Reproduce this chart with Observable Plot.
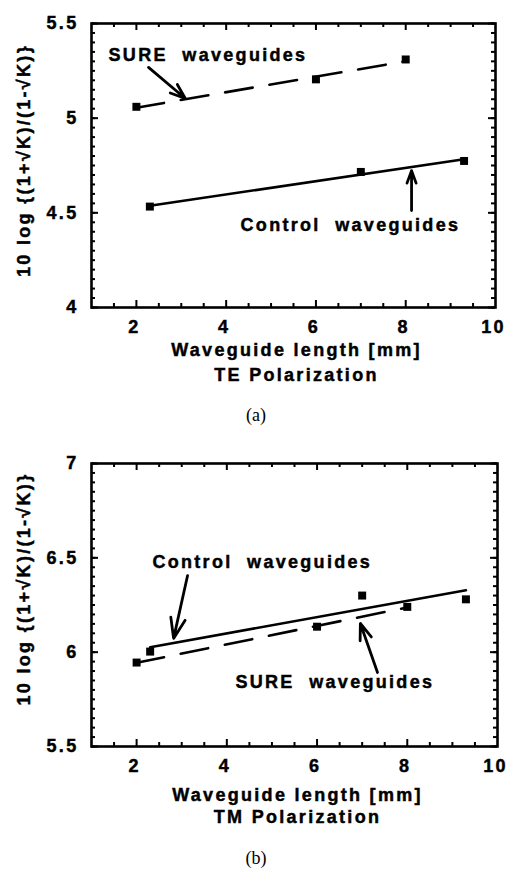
<!DOCTYPE html>
<html><head><meta charset="utf-8">
<script src="https://cdn.jsdelivr.net/npm/d3@7"></script>
<script src="https://cdn.jsdelivr.net/npm/@observablehq/plot@0.6"></script>
<style>
body{margin:0;background:#fff;width:508px;}
#chart svg text{letter-spacing:2.3px;stroke:#000;stroke-width:0.45px;}
.cap{width:508px;text-align:center;font-family:'Liberation Serif','Times New Roman',serif;font-size:18px;color:#000;}
</style></head><body><div id="chart"></div>
<script>
// ---- data ----
const xTickLabels = [2, 4, 6, 8, 10];
const xMajorTicks = [2, 4, 6, 8];
const xMinorTicks = [1.5, 2.5, 3, 3.5, 4.5, 5, 5.5, 6.5, 7, 7.5, 8.5, 9, 9.5];

// (a) TE polarization
const teYTicks = [4, 4.5, 5, 5.5];
const teSureLen = [2, 6, 8];
const teSureVal = [5.06, 5.205, 5.31];
const teCtrlLen = [2.3, 7.0, 9.3];
const teCtrlVal = [4.533, 4.716, 4.774];

// (b) TM polarization
const tmYTicks = [5.5, 6, 6.5, 7];
const tmSureLen = [2, 6, 8];
const tmSureVal = [5.945, 6.135, 6.24];
const tmCtrlLen = [2.3, 7.0, 9.3];
const tmCtrlVal = [6.003, 6.30, 6.28];

// annotations
const teLabels = [
  {x: 1.38, y: 5.33, text: "SURE  waveguides"},
  {x: 4.32, y: 4.433, text: "Control  waveguides"}
];
const teArrows = [
  {x1: 2.27, y1: 5.268, x2: 3.09, y2: 5.104},
  {x1: 8.13, y1: 4.512, x2: 8.13, y2: 4.723}
];
const tmLabels = [
  {x: 2.35, y: 6.475, text: "Control  waveguides"},
  {x: 4.19, y: 5.84, text: "SURE  waveguides"}
];
const tmArrows = [
  {x1: 3.13, y1: 6.406, x2: 2.82, y2: 6.073},
  {x1: 7.34, y1: 5.892, x2: 6.96, y2: 6.152}
];
const yLabel = "10 log {(1+\u221AK)/(1-\u221AK)}";
const xLabel = "Waveguide length [mm]";

const FONT = "'Liberation Sans', Arial, Helvetica, sans-serif";
const rows = (L, V) => L.map((len, i) => ({len, val: V[i]}));

function panel(cfg) {
  const W = 508, H = cfg.height, ml = 91, mr = cfg.marginRight, mt = cfg.marginTop, mb = cfg.marginBottom;
  const fh = H - mt - mb, fw = W - ml - mr;
  const [y0, y1] = cfg.yDomain;
  const yMinor = d3.range(Math.round((y1 - y0) / 0.05) + 1).map(i => +(y0 + i * 0.05).toFixed(2));
  const sure = rows(cfg.sureLen, cfg.sureVal), ctrl = rows(cfg.ctrlLen, cfg.ctrlVal);
  return Plot.plot({
    width: W, height: H, marginTop: mt, marginBottom: mb, marginLeft: ml, marginRight: mr,
    style: {fontFamily: FONT, fontSize: "18px", fontWeight: "bold", color: "#000", background: "#fff"},
    x: {domain: [1, 10]},
    y: {domain: cfg.yDomain},
    marks: [
      Plot.tickX(xMajorTicks, {x: d => d, insetTop: fh - 7, strokeWidth: 2}),
      Plot.tickX(xMajorTicks, {x: d => d, insetBottom: fh - 7, strokeWidth: 2}),
      Plot.tickX(xMinorTicks, {x: d => d, insetTop: fh - 4, strokeWidth: 2}),
      Plot.tickX(xMinorTicks, {x: d => d, insetBottom: fh - 4, strokeWidth: 2}),
      Plot.tickY(cfg.yTicks, {y: d => d, insetRight: fw - 7, strokeWidth: 2}),
      Plot.tickY(cfg.yTicks, {y: d => d, insetLeft: fw - 7, strokeWidth: 2}),
      Plot.tickY(yMinor, {y: d => d, insetRight: fw - 4, strokeWidth: 2}),
      Plot.tickY(yMinor, {y: d => d, insetLeft: fw - 4, strokeWidth: 2}),
      Plot.frame({strokeWidth: 2.6}),
      Plot.axisX(xTickLabels, {tickSize: 0, tickPadding: 13, tickFormat: String, label: null, dx: -2}),
      Plot.axisY(cfg.yTicks, {tickSize: 0, tickPadding: 13, tickFormat: String, label: null}),
      Plot.linearRegressionY(ctrl, {x: "len", y: "val", stroke: "#000", strokeWidth: 2.6, ci: 0}),
      Plot.linearRegressionY(sure, {x: "len", y: "val", stroke: "#000", strokeWidth: 2.6, ci: 0, strokeDasharray: "28,17"}),
      Plot.dot(ctrl, {x: "len", y: "val", symbol: "square", r: 4.5, fill: "#000"}),
      Plot.dot(sure, {x: "len", y: "val", symbol: "square", r: 4.5, fill: "#000"}),
      Plot.arrow(cfg.arrows, {x1: "x1", y1: "y1", x2: "x2", y2: "y2", stroke: "#000", strokeWidth: 2.8, headLength: 12, headAngle: 40}),
      Plot.text(cfg.labels, {x: "x", y: "y", text: "text", textAnchor: "start", fontSize: 18, fontWeight: "bold"}),
      Plot.text([yLabel], {text: d => d, frameAnchor: "left", textAnchor: "middle", rotate: -90, dx: -67, dy: cfg.yLabelDy, fontSize: 18, fontWeight: "bold"}),
      Plot.text([xLabel], {text: d => d, frameAnchor: "bottom", textAnchor: "middle", dx: 3, dy: cfg.xLabelDy, fontSize: 18, fontWeight: "bold"}),
      Plot.text([cfg.pol], {text: d => d, frameAnchor: "bottom", textAnchor: "middle", dx: 3, dy: cfg.polDy, fontSize: 18, fontWeight: "bold"})
    ]
  });
}

const chart = document.getElementById("chart");
chart.append(panel({
  height: 396, marginTop: 23, marginBottom: 89, marginRight: 13,
  yDomain: [4, 5.5], yTicks: teYTicks,
  sureLen: teSureLen, sureVal: teSureVal, ctrlLen: teCtrlLen, ctrlVal: teCtrlVal,
  labels: teLabels, arrows: teArrows, yLabelDy: -5, xLabelDy: 48, polDy: 73, pol: "TE Polarization"
}));
const capA = document.createElement("div");
capA.className = "cap"; capA.style.height = "34px"; capA.style.lineHeight = "38px"; capA.style.paddingLeft = "4px"; capA.style.boxSizing = "border-box";
capA.textContent = "(a)";
chart.append(capA);
chart.append(panel({
  height: 410, marginTop: 33, marginBottom: 94, marginRight: 11,
  yDomain: [5.5, 7], yTicks: tmYTicks,
  sureLen: tmSureLen, sureVal: tmSureVal, ctrlLen: tmCtrlLen, ctrlVal: tmCtrlVal,
  labels: tmLabels, arrows: tmArrows, yLabelDy: -16, xLabelDy: 54, polDy: 76, pol: "TM Polarization"
}));
const capB = document.createElement("div");
capB.className = "cap"; capB.style.height = "29px"; capB.style.lineHeight = "36px"; capB.style.paddingLeft = "4px"; capB.style.boxSizing = "border-box";
capB.textContent = "(b)";
chart.append(capB);
</script></body></html>
